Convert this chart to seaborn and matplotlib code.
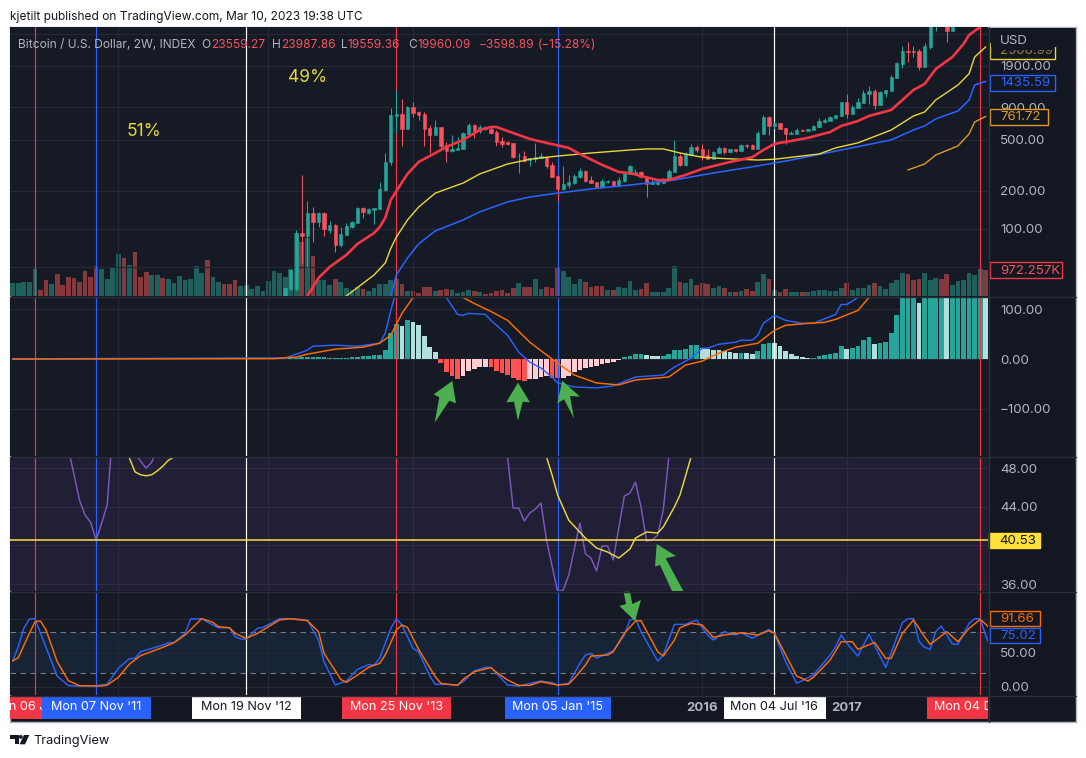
# ======== IMPORTS ========
import numpy as np
import matplotlib
matplotlib.use("Agg")
import matplotlib.pyplot as plt
from matplotlib.patches import Polygon, Rectangle, Circle
from matplotlib.ticker import NullLocator
import seaborn as sns

# ======== DATA (bar index = one 2W bar) ========
volume_k = [
    488, 488, 525, 525, 1013, 225, 600, 450, 825, 413,
    713, 675, 525, 938, 725, 1125, 1013, 638, 1050, 1575,
    1425, 1163, 1650, 713, 900, 788, 788, 675, 638, 488,
    750, 600, 638, 1125, 863, 1350, 713, 525, 450, 450,
    600, 375, 413, 263, 375, 188, 563, 938, 863, 713,
    1013, 2375, 2025, 2175, 1500, 600, 600, 413, 638, 525,
    300, 225, 338, 263, 188, 300, 450, 450, 600, 638,
    450, 188, 188, 113, 338, 338, 188, 225, 263, 225,
    113, 150, 225, 188, 150, 75, 113, 188, 225, 113,
    300, 488, 338, 338, 638, 263, 338, 300, 1050, 938,
    713, 450, 638, 525, 338, 375, 375, 225, 225, 338,
    300, 563, 225, 263, 488, 150, 150, 150, 300, 1125,
    525, 488, 638, 413, 488, 450, 300, 375, 300, 150,
    150, 188, 263, 188, 525, 825, 638, 225, 150, 263,
    150, 150, 150, 150, 188, 225, 225, 188, 188, 300,
    488, 225, 300, 300, 413, 488, 375, 263, 488, 600,
    863, 825, 600, 638, 863, 600, 675, 638, 825, 413,
    563, 600, 863, 788, 1013, 972,
]
volume_dir = (
    "gggggrrgrrrrrrrrgggg"
    "rgrrrggrgggggggrggrr"
    "rgggggggggggrgrgggrg"
    "gggrggggggrgrrrrgrrg"
    "gggrgrrrrrrgrrggrrrg"
    "gggrrrrgrggggrrggggg"
    "rggrrrggrgrgrrggrgrr"
    "ggrgggggggrggggrgggg"
    "grrrgggrrggggggr"
)

candle_idx = np.arange(49, 170)
candle_open = [
    30, 33.9, 34, 93, 88, 133.6, 113.4, 133.6, 98.2, 107.5,
    74.9, 89.7, 103.6, 111.4, 145.8, 133.6, 141, 143.3, 202, 335,
    769, 797, 608, 904, 826, 797, 619, 546, 630, 456,
    408, 416, 424, 556, 654, 586, 630, 608, 575, 490,
    481, 473, 371, 373, 347, 352, 358, 365, 318, 260,
    206, 221, 229, 256, 285, 242, 233, 214, 233, 238,
    217, 238, 270, 270, 280, 256, 225, 225, 229, 242,
    280, 373, 318, 380, 440, 424, 380, 352, 394, 432,
    401, 424, 408, 456, 456, 424, 556, 755, 642, 678,
    619, 556, 556, 597, 586, 597, 630, 690, 702, 742,
    769, 989, 797, 889, 972, 1143, 1207, 938, 1165, 1207,
    1525, 1965, 2486, 2486, 2486, 1862, 2670, 4000, 4800, 4600, 3570,
]
candle_high = [
    34.5, 47.7, 98, 265, 166, 148.5, 136, 136, 115.5, 109.4,
    103.6, 111.4, 115.5, 148.5, 148.5, 145.8, 145.8, 233, 394, 895,
    1229, 1045, 921, 989, 842, 826, 654, 715, 630, 481,
    546, 526, 575, 678, 666, 654, 642, 630, 597, 526,
    490, 473, 394, 408, 358, 473, 394, 373, 335, 265,
    312, 265, 270, 301, 290, 260, 233, 246, 242, 238,
    256, 280, 318, 296, 285, 260, 246, 242, 251, 296,
    499, 387, 401, 465, 456, 465, 424, 408, 448, 440,
    424, 424, 465, 465, 465, 586, 783, 769, 690, 678,
    619, 586, 619, 608, 608, 654, 742, 742, 769, 783,
    989, 1143, 938, 1064, 1229, 1321, 1251, 1207, 1229, 1611,
    2037, 2720, 2920, 2720, 2577, 2860, 4100, 5000, 5500, 5000, 5200,
]
candle_low = [
    30, 33, 32.7, 54, 50.3, 79, 103.6, 88, 93, 66,
    72.2, 89.7, 101.8, 111.4, 122, 131, 109.4, 143.3, 198, 318,
    566, 448, 608, 755, 715, 448, 394, 546, 432, 335,
    401, 416, 424, 556, 518, 566, 597, 556, 448, 440,
    456, 358, 274, 335, 312, 335, 358, 301, 256, 166,
    202, 210, 225, 251, 233, 229, 214, 214, 229, 217,
    217, 233, 270, 270, 256, 178, 225, 221, 229, 242,
    280, 312, 312, 373, 401, 347, 352, 352, 394, 387,
    401, 401, 408, 432, 424, 424, 556, 546, 608, 608,
    465, 556, 556, 586, 586, 597, 630, 678, 702, 742,
    769, 742, 797, 889, 972, 955, 873, 938, 1083, 1207,
    1525, 1828, 2037, 2231, 1764, 1862, 2577, 3570, 4200, 2920, 3570,
]
candle_close = [
    34.5, 47.7, 93, 88, 133.6, 113.4, 133.6, 100, 107.5, 74.9,
    91.3, 105.6, 113.4, 145.8, 136, 143.3, 145.8, 206, 335, 783,
    797, 608, 904, 812, 783, 608, 546, 630, 448, 408,
    424, 432, 566, 654, 586, 630, 608, 566, 481, 465,
    465, 365, 375, 341, 358, 365, 373, 312, 256, 206,
    225, 233, 260, 285, 238, 229, 214, 238, 238, 217,
    242, 274, 312, 280, 256, 225, 233, 233, 242, 285,
    373, 318, 387, 440, 416, 373, 352, 401, 432, 401,
    424, 408, 456, 448, 424, 566, 755, 642, 678, 608,
    556, 566, 597, 586, 608, 642, 702, 715, 755, 783,
    989, 797, 904, 989, 1165, 1207, 938, 1185, 1229, 1552,
    2000, 2486, 2440, 2440, 1862, 2720, 4000, 4800, 4700, 3570, 4800,
]

ma_red_idx = [53, 55, 57, 60, 62, 65, 66, 67, 68, 69, 71, 73, 76, 78, 81, 84, 86, 87, 89, 93, 96, 100, 102, 106, 109, 111, 113, 116, 118, 121, 124, 129, 133, 135, 137, 139, 143, 147, 149, 152, 154, 158, 162, 164, 166, 169, 171, 172, 174, 175]
ma_red_val = [29.8, 41.3, 50.3, 62.5, 76.3, 93, 103.6, 122, 169, 198, 270, 335, 394, 440, 499, 597, 630, 630, 586, 508, 473, 432, 387, 318, 280, 274, 260, 242, 242, 265, 296, 335, 365, 416, 465, 481, 518, 575, 642, 702, 769, 857, 1229, 1370, 1796, 2231, 2820, 3319, 3833, 4200]
ma_yellow_idx = [60, 65, 67, 68, 69, 71, 73, 76, 81, 84, 89, 93, 98, 104, 111, 114, 117, 120, 124, 127, 134, 137, 145, 148, 152, 158, 162, 164, 166, 170, 172, 173, 175]
ma_yellow_val = [29.8, 43.6, 54.1, 70.6, 86.5, 117.6, 148.5, 191, 229, 270, 323, 352, 373, 394, 416, 424, 424, 394, 365, 358, 347, 352, 387, 432, 473, 597, 769, 826, 1026, 1345, 1650, 2231, 2680]
ma_blue_idx = [68, 69, 71, 73, 76, 81, 84, 89, 93, 98, 104, 111, 119, 125, 133, 140, 149, 158, 162, 164, 166, 170, 172, 173, 175]
ma_blue_val = [29.8, 43.6, 59.1, 76.3, 96.5, 117.6, 136, 163, 178, 191, 206, 221, 242, 270, 307, 347, 416, 499, 597, 642, 729, 842, 1026, 1345, 1436]
ma_orange_idx = [161, 164, 166, 170, 172, 173, 175]
ma_orange_val = [290, 323, 380, 448, 556, 690, 762]

macd_hist = [
    0.5, 0.6, 0.8, 1.2, 1.5, 1.5, 1, 0.5, 0.5, 0.4,
    0.3, 0.3, 0.2, 0.2, 0.2, 0.3, 0.3, 0.3, 0.3, 0.4,
    0.3, 0.3, 0.3, 0.3, 0.2, 0.2, 0.2, 0.3, 0.3, 0.3,
    0.4, 0.4, 0.4, 0.3, 0.3, 0.3, 0.3, 0.4, 0.4, 0.3,
    0.3, 0.3, 0.3, 0.3, 0.3, 0.4, 0.6, 0.8, 1, 1,
    2, 3, 4, 5, 5, 4, 4, 3, 3, 3,
    3, 4, 5, 6, 7, 8, 9, 19, 52, 71,
    67, 79, 74, 69, 47, 25, 15, -7, -25, -34,
    -40, -34, -23, -19, -15, -15, -15, -23, -27, -32,
    -38, -42, -44, -41, -40, -36, -34, -38, -38, -38,
    -34, -25, -21, -17, -15, -13, -9, -7, -5, -1,
    5, 7, 11, 11, 9, 7, 7, 7, 11, 19,
    19, 21, 29, 29, 22, 20, 19, 19, 17, 15,
    13, 13, 13, 11, 17, 31, 33, 33, 27, 17,
    11, 7, 5, 3, 3, 7, 9, 11, 13, 27,
    21, 23, 27, 39, 45, 31, 33, 35, 53, 89,
    150, 150, 150, 113, 150, 150, 150, 150, 150, 150,
    150, 150, 150, 150, 150, 150,
]
hist_tone = (
    "g" * 46 + "G" * 20
    + "GGGGgGggggg" + "RRRR" + "rrrrr" + "RRRRRRR" + "rrrr" + "RR" + "r" * 11
    + "GGGG" + "ggg" + "G" * 7
    + "ggggggg" + "G" + "gg" + "GGG" + "ggggggg" + "GGGGGG" + "g" + "GGGG" + "g" + "G" * 7
    + "g" + "GGGG" + "g" + "GGGGGG" + "g"
)

macd_idx = [0, 40, 47, 49, 51, 53, 54, 58, 62, 66, 67, 68, 69, 70, 74, 78, 80, 81, 82, 85, 86, 89, 91, 93, 95, 97, 98, 101, 105, 108, 112, 117, 119, 122, 124, 125, 127, 130, 131, 133, 134, 135, 137, 139, 142, 144, 148, 149, 150, 152, 154, 160, 175]
macd_val = [0.5, 2, 2, 2, 10, 18, 26, 28, 26, 32, 52, 98, 138, 178, 200, 124, 90, 88, 92, 90, 78, 48, 14, -6, -18, -36, -48, -56, -58, -54, -36, -32, -16, 2, 22, 22, 30, 34, 38, 38, 48, 72, 88, 78, 72, 72, 90, 110, 110, 124, 160, 300, 600]
signal_idx = [0, 47, 51, 53, 58, 63, 66, 68, 70, 72, 74, 77, 81, 83, 86, 89, 93, 97, 101, 105, 109, 112, 118, 121, 124, 127, 130, 134, 137, 139, 143, 146, 148, 152, 154, 160, 175]
signal_val = [0, 1, 4, 10, 20, 24, 32, 48, 92, 124, 170, 150, 124, 112, 96, 78, 34, 0, -32, -48, -52, -42, -36, -12, -4, 12, 24, 32, 58, 68, 72, 74, 80, 98, 124, 220, 500]

rsi_idx_a = [9, 10, 11, 12, 13, 14, 15, 16, 17, 18]
rsi_val_a = [54, 50, 47.4, 44.7, 43.14, 42.4, 40.55, 42.3, 44.2, 52]
rsi_idx_b = [21, 22, 23, 24, 25, 26]
rsi_val_b = [51, 49.5, 48.7, 48, 48.6, 50]
rsi_idx_c = [88, 89, 90, 91, 92, 93, 94, 95, 96, 98, 99, 100, 102, 103, 104, 105, 106, 107, 108, 110, 111, 112, 113, 114, 115, 116, 117, 118, 119]
rsi_val_c = [52, 49.14, 43.86, 43.86, 42.52, 43.35, 43.76, 44.38, 40.55, 35.2, 35.38, 36.93, 42.31, 39.11, 38.69, 37.35, 39.93, 39.93, 38.49, 45.1, 45.41, 46.55, 43.97, 40.45, 40.55, 41.07, 43.66, 49.14, 53]
rsi_ma_idx_a = [20, 21, 22, 23, 24, 25, 26, 27, 28, 29, 30]
rsi_ma_val_a = [50.5, 49, 47.6, 47.3, 47.2, 47.3, 47.7, 48.2, 48.8, 49.14, 50]
rsi_ma_idx_b = [95, 96, 97, 98, 100, 103, 105, 107, 109, 111, 112, 114, 116, 117, 119, 120, 122, 123]
rsi_ma_val_b = [51, 49.14, 47.28, 45.2, 42.6, 40.76, 39.73, 39.31, 38.69, 39.62, 40.76, 41.38, 41.28, 41.9, 43.97, 45.2, 49.14, 52]
rsi_level = 40.53

stoch_k_idx = [0, 1, 2, 3, 4, 5, 7, 8, 10, 12, 15, 17, 19, 21, 22, 23, 24, 27, 28, 29, 31, 32, 34, 36, 37, 39, 40, 41, 42, 44, 45, 48, 50, 53, 55, 56, 58, 60, 62, 64, 65, 66, 68, 69, 70, 72, 73, 75, 76, 78, 80, 81, 83, 85, 86, 89, 91, 95,
               97, 98, 100, 102, 103, 104, 105, 108, 110, 111, 112, 113, 116, 117, 119, 121, 123, 125, 126, 128, 130, 131, 133, 136, 137, 139, 141, 144, 147, 148, 149, 150, 152, 154, 157, 160, 161, 162, 163, 164, 165, 166, 167, 169, 170, 172, 173, 174, 175, 176]
stoch_k_val = [37.6, 58.7, 85.6, 99.3, 99.9, 78.2, 36.7, 15.6, 1.5, 1, 1, 3.9, 26.9, 41.1, 41.6, 51.3, 53.8, 61.1, 64.5, 64.5, 78.2, 99.3, 99.7, 90.5, 86.5, 86.5, 73.3, 69.9, 69.9, 85.6, 87, 99.7, 99.7, 97.8, 68.5, 36.7, 2.4, 8.3, 25.4, 32.3, 31.8, 41.6, 85.6, 99.7, 90.5, 56.2, 51.3, 15.6, 3.4, 3.4, 2.4, 7.3, 23, 28.4, 28.4, 2.4, 1, 8.3,
               5.9, 2.4, 4.9, 34.2, 46.4, 48.9, 42, 52.3, 75.8, 97.8, 99.5, 80.7, 37.6, 46.4, 91.4, 91.4, 97.8, 75.8, 68.5, 80.7, 75.8, 79.2, 70.9, 84.1, 78.2, 36.7, 4.9, 17.1, 46.4, 58.7, 75.8, 63.6, 45, 76.8, 28.4, 93.9, 99.7, 99.9, 66, 57.7, 54.8, 80.7, 89, 62.6, 62.1, 92.9, 99.7, 99.7, 75.02, 54.8]
stoch_d_idx = [0, 1, 3, 4, 5, 6, 8, 10, 12, 16, 17, 19, 21, 23, 27, 29, 31, 34, 36, 37, 39, 40, 42, 44, 47, 48, 50, 53, 55, 56, 59, 60, 62, 64, 66, 67, 69, 70, 71, 73, 76, 77, 80, 81, 83, 86, 87, 89, 91, 93, 95,
               98, 100, 101, 103, 104, 107, 108, 110, 112, 113, 116, 117, 119, 120, 122, 124, 126, 128, 131, 134, 136, 137, 141, 143, 144, 147, 149, 151, 152, 155, 157, 158, 160, 162, 164, 165, 168, 170, 172, 174, 175, 176]
stoch_d_val = [37.6, 42.5, 78.2, 95.3, 96.3, 83.1, 36.7, 8.8, 1.5, 1, 2.4, 13.7, 33.2, 45.5, 57.7, 64.5, 75.8, 99.9, 94.4, 88, 86.5, 78.2, 70.9, 78.2, 92.9, 97.8, 99.7, 96.8, 80.7, 48.9, 10.7, 6.3, 17.1, 28.4, 34.2, 46.4, 83.1, 90.5, 87, 54.8, 14.7, 4.9, 1.9, 10.7, 22, 27.9, 21, 9.8, 1.9, 1.9, 7.3,
               2.4, 3.9, 12.2, 31.8, 45, 46.4, 51.3, 78.2, 96.3, 96.8, 51.3, 45, 68.5, 86.5, 92.9, 90.5, 72.4, 75.8, 79.2, 75.8, 82.1, 78.2, 15.6, 8.3, 13.7, 39.1, 66, 66, 54.8, 65, 41.6, 41.6, 78.2, 97.8, 73.3, 62.1, 80.7, 66, 85.6, 98.8, 91.66, 83]

marker_idx = [4, 15, 42, 69, 98, 137, 174]
marker_labels = ["Mon 06 Jun '11", "Mon 07 Nov '11", "Mon 19 Nov '12", "Mon 25 Nov '13", "Mon 05 Jan '15", "Mon 04 Jul '16", "Mon 04 Dec '17"]
year_idx = [19, 46, 72, 98, 124, 150]
year_labels = {124: "2016", 150: "2017"}

price_ticks = [50, 100, 200, 500, 900, 1900, 3400]
price_tick_labels = ["", "100.00", "200.00", "500.00", "900.00", "1900.00", ""]
macd_ticks = [-100, 0, 100]
macd_tick_labels = ["\u2212100.00", "0.00", "100.00"]
rsi_ticks = [36, 40, 44, 48]
rsi_tick_labels = ["36.00", "", "44.00", "48.00"]
stoch_ticks = [0, 50, 100]
stoch_tick_labels = ["0.00", "50.00", ""]

# ======== COLOURS ========
BG = "#161a25"
DARK = "#131722"
GRID = "#252935"
LABEL = "#b2b5be"
UP = "#26a69a"
DOWN = "#f7525f"
RED = "#f23645"
BLUE = "#2962ff"
ORANGE = "#ff6d00"
YELLOW = "#e8d83c"
AMBER = "#e09a24"
ARROW = "#4caf50"
marker_colors = [RED, BLUE, "#ffffff", RED, BLUE, "#ffffff", RED]

# ======== FIGURE ========
W, H = 1086, 758
sns.set_style("dark")
plt.rcParams["font.family"] = ["Inter", "DejaVu Sans"]
fig = plt.figure(figsize=(W / 100, H / 100), dpi=100, facecolor="white")


def pane(x0, y0, x1, y1):
    return fig.add_axes([x0 / W, 1 - y1 / H, (x1 - x0) / W, (y1 - y0) / H])


def draw_line(ax, x, y, color, width):
    sns.lineplot(x=x, y=y, ax=ax, color=color, linewidth=width, estimator=None,
                 sort=False, errorbar=None, legend=False, zorder=4)


def style_pane(ax, ticks, labels, facecolor=BG):
    ax.set_facecolor(facecolor)
    for side in ax.spines.values():
        side.set_visible(False)
    ax.set_xticks(year_idx)
    ax.set_xticklabels([])
    ax.yaxis.tick_right()
    ax.set_yticks(ticks)
    ax.set_yticklabels(labels)
    ax.yaxis.set_minor_locator(NullLocator())
    ax.tick_params(axis="both", length=0)
    ax.tick_params(axis="y", pad=8.6, labelcolor=LABEL, labelsize=9.6)
    ax.grid(True, color=GRID, linewidth=0.9)
    ax.set_axisbelow(True)
    ax.set_xlabel("")
    ax.set_ylabel("")
    for idx, color in zip(marker_idx, marker_colors):
        ax.axvline(idx, color=color, linewidth=0.85, zorder=2.5)


XLIM = (-0.486, 175.4)

frame = pane(10, 27, 1076, 722)
frame.set_facecolor(DARK)
frame.set_xticks([])
frame.set_yticks([])
for side in frame.spines.values():
    side.set_color("#b4b7bf")
    side.set_linewidth(1)

# -------- price pane with volume underneath --------
ax_vol = pane(10, 27, 988, 296)
sns.barplot(x=np.arange(len(volume_k)), y=volume_k, hue=list(volume_dir),
            palette={"g": "#1f5f5c", "r": "#85393c"}, dodge=False, native_scale=True,
            width=0.85, saturation=1, legend=False, linewidth=0, edgecolor="none", ax=ax_vol)
ax_vol.set_ylim(0, 10090)
ax_vol.set_xlim(*XLIM)
ax_vol.axis("off")
ax_vol.add_patch(Rectangle((0, 0), 1, 1, transform=ax_vol.transAxes, facecolor=BG, edgecolor="none", zorder=0))

ax_price = pane(10, 27, 988, 296)
ax_price.set_yscale("log")
style_pane(ax_price, price_ticks, price_tick_labels)
ax_price.patch.set_visible(False)

opens = np.array(candle_open)
closes = np.array(candle_close)
is_up = closes >= opens
candle_colors = np.where(is_up, UP, DOWN)
ax_price.vlines(candle_idx, candle_low, candle_high, colors=candle_colors, linewidth=0.75, zorder=3)
ax_price.bar(candle_idx, np.abs(closes - opens), bottom=np.minimum(opens, closes), width=0.6,
             color=candle_colors, edgecolor=candle_colors, linewidth=0.4, zorder=3)

draw_line(ax_price, ma_orange_idx, ma_orange_val, AMBER, 1.0)
draw_line(ax_price, ma_blue_idx, ma_blue_val, BLUE, 1.15)
draw_line(ax_price, ma_yellow_idx, ma_yellow_val, YELLOW, 1.0)
draw_line(ax_price, ma_red_idx, ma_red_val, RED, 1.9)
ax_price.set_ylim(29.8, 3833)
ax_price.set_xlim(*XLIM)

# -------- MACD pane --------
ax_macd = pane(10, 297, 988, 456)
style_pane(ax_macd, macd_ticks, macd_tick_labels)
sns.barplot(x=np.arange(len(macd_hist)), y=macd_hist, hue=list(hist_tone),
            palette={"G": UP, "g": "#b2dfdb", "R": "#ff5252", "r": "#ffcdd2"},
            dodge=False, native_scale=True, width=0.85, saturation=1, legend=False,
            linewidth=0, edgecolor="none", ax=ax_macd)
draw_line(ax_macd, macd_idx, macd_val, BLUE, 1.05)
draw_line(ax_macd, signal_idx, signal_val, ORANGE, 1.05)
ax_macd.set_ylim(-195, 125)
ax_macd.set_xlim(*XLIM)
ax_macd.set_xlabel("")
ax_macd.set_ylabel("")
ax_macd.set_xticks(year_idx)
ax_macd.set_xticklabels([])

# -------- RSI pane --------
ax_rsi = pane(10, 457, 988, 591)
style_pane(ax_rsi, rsi_ticks, rsi_tick_labels, facecolor="#211f35")
ax_rsi.grid(True, color="#2e2c42", linewidth=0.9)
draw_line(ax_rsi, rsi_idx_a, rsi_val_a, "#7e57c2", 1.05)
draw_line(ax_rsi, rsi_idx_b, rsi_val_b, "#7e57c2", 1.05)
draw_line(ax_rsi, rsi_idx_c, rsi_val_c, "#7e57c2", 1.05)
draw_line(ax_rsi, rsi_ma_idx_a, rsi_ma_val_a, YELLOW, 1.05)
draw_line(ax_rsi, rsi_ma_idx_b, rsi_ma_val_b, YELLOW, 1.05)
ax_rsi.axhline(rsi_level, color="#ffe13a", linewidth=1.1, zorder=4)
ax_rsi.set_ylim(35.28, 49.14)
ax_rsi.set_xlim(*XLIM)

# -------- stochastic RSI pane --------
ax_stoch = pane(10, 592, 988, 695)
style_pane(ax_stoch, stoch_ticks, stoch_tick_labels)
ax_stoch.axhspan(20, 80, facecolor="#162436", edgecolor="none", linewidth=0, zorder=0)
for level in (20, 80):
    ax_stoch.axhline(level, color="#787b86", linewidth=0.8, linestyle=(0, (5, 4)), zorder=2)
draw_line(ax_stoch, stoch_k_idx, stoch_k_val, BLUE, 1.05)
draw_line(ax_stoch, stoch_d_idx, stoch_d_val, ORANGE, 1.05)
ax_stoch.set_ylim(-12.2, 138.9)
ax_stoch.set_xlim(*XLIM)

# ======== OVERLAY (pixel space): legend, badges, price labels, arrows ========
over = fig.add_axes([0, 0, 1, 1], zorder=10)
over.set_xlim(0, W)
over.set_ylim(H, 0)
over.axis("off")


def label(x, y, s, color=LABEL, size=9.6, ha="left", **kw):
    return over.text(x, y, s, color=color, fontsize=size, ha=ha, va="center", **kw)


def price_box(x0, y0, x1, y1, edge, text, text_color, face=DARK):
    over.add_patch(Rectangle((x0, y0), x1 - x0, y1 - y0, facecolor=face, edgecolor=edge, linewidth=1))
    return label(x0 + 10, (y0 + y1) / 2 + 0.5, text, color=text_color)


for y in (296.5, 456.5, 591.5, 695.5):
    over.plot([10, 1076], [y, y], color="#2a2e39", linewidth=1)
over.plot([988.5, 988.5], [27, 722], color="#2f333f", linewidth=1)

label(10, 17, "kjetilt published on TradingView.com, Mar 10, 2023 19:38 UTC", color="#131722", size=8.6)
label(18, 45.5, "Bitcoin / U.S. Dollar, 2W, INDEX", size=8.6)
for x, s, c in [(201, "O", LABEL), (211, "23559.27", DOWN), (272, "H", LABEL), (281, "23987.86", DOWN),
                (341, "L", LABEL), (348, "19559.36", DOWN), (408.5, "C", LABEL), (417, "19960.09", DOWN),
                (479, "\u22123598.89", DOWN), (538, "(\u221215.28%)", DOWN)]:
    label(x, 45.5, s, color=c, size=8.6)
label(127, 131, "51%", color=YELLOW, size=12.5)
label(288, 77, "49%", color=YELLOW, size=12.5)

# right hand value labels
top_label = price_box(990, 43, 1055, 59, YELLOW, "2506.99", "#8d8436")
top_label.set_clip_path(Rectangle((990, 49.5), 65, 10, transform=over.transData))
top_label.set_clip_on(True)
over.add_patch(Rectangle((991, 28), 84, 19, facecolor=DARK, edgecolor="none"))
label(1000, 41, "USD")
price_box(990, 74.5, 1055, 90.5, BLUE, "1435.59", BLUE)
price_box(990, 109, 1048, 125, AMBER, "761.72", AMBER)
price_box(990, 262, 1062, 278, RED, "972.257K", DOWN)
price_box(989, 533, 1040, 548, "#ffe13a", "40.53", "#131722", face="#ffe13a")
price_box(990, 610.5, 1040, 626, ORANGE, "91.66", ORANGE)
price_box(990, 627.5, 1040, 643, BLUE, "75.02", BLUE)

# date badges under the time axis
badge_clip = {0: (10, 42), 1: (42, 151), 2: (192, 301), 3: (342, 451), 4: (504.5, 611), 5: (723.5, 826), 6: (927, 988)}
for i, (idx, s, c) in enumerate(zip(marker_idx, marker_labels, marker_colors)):
    x0, x1 = badge_clip[i]
    box = Rectangle((x0, 695.5), x1 - x0, 23, facecolor=c, edgecolor="none")
    over.add_patch(box)
    t = label(12.7 + 5.56 * idx, 707.5, s, color="#131722" if c == "#ffffff" else "#ffffff", size=9.1, ha="center")
    t.set_clip_path(box)
    t.set_clip_on(True)
for idx, s in year_labels.items():
    label(12.7 + 5.56 * idx, 708, s, color=LABEL, size=9.5, ha="center", fontweight="bold")

# hand drawn green arrows
arrows = [
    [(452.3, 381), (456, 403.3), (449.3, 400.7), (434.7, 422.7), (439.3, 397.3), (433.7, 394.3)],
    [(518, 382.7), (530, 402.3), (522.7, 401.7), (518, 420.7), (514, 401.7), (506.3, 402.3)],
    [(562.3, 380.7), (580, 396.7), (570, 396), (574, 418.3), (564, 399.3), (557.3, 403.3)],
    [(656.7, 544), (676, 556), (665.7, 558.3), (683.3, 591), (672, 591), (660, 565), (655, 566.7)],
    [(635, 621), (641, 600), (632.3, 604), (630, 591.7), (623.6, 591.7), (626, 604), (619.4, 606)],
]
for pts in arrows:
    over.add_patch(Polygon(pts, closed=True, facecolor=ARROW, edgecolor="none"))

# TradingView logo
over.add_patch(Polygon([(10.3, 735), (18.6, 735), (18.6, 744.3), (14.5, 744.3), (14.5, 739), (10.3, 739)],
                       closed=True, facecolor="#131722", edgecolor="none"))
over.add_patch(Circle((20.8, 736.9), 1.9, facecolor="#131722", edgecolor="none"))
over.add_patch(Polygon([(24, 735), (29.3, 735), (25, 744.3), (19.5, 744.3)],
                       closed=True, facecolor="#131722", edgecolor="none"))
label(33, 741, "TradingView", color="#131722", size=9.2)

fig.savefig("out.png", dpi=100, facecolor="white")
